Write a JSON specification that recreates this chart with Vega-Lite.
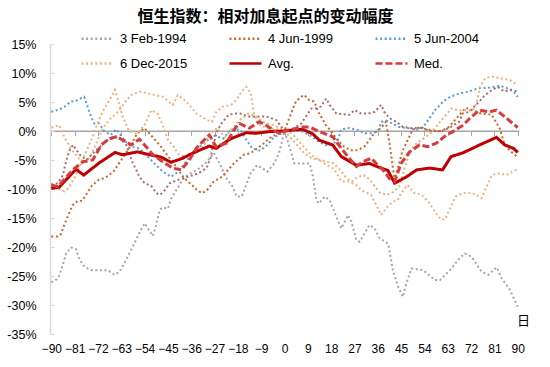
{
"$schema":"https://vega.github.io/schema/vega-lite/v6.json",
"width":469,"height":290,
"autosize":{"type":"none"},
"padding":{"left":50,"top":44,"right":31,"bottom":33},
"background":"white",
"config":{"view":{"stroke":null},"font":"Liberation Sans"},
"title":{"text":"恒生指数：相对加息起点的变动幅度","font":"Noto Sans CJK SC","fontSize":16,"fontWeight":"bold","color":"#000000","anchor":"middle","frame":"group","dx":-19,"offset":-4},
"data":{"values":[
{"s":"3 Feb-1994","d":-90,"v":-26.1},{"s":"3 Feb-1994","d":-88,"v":-25.6},{"s":"3 Feb-1994","d":-87,"v":-25.0},{"s":"3 Feb-1994","d":-85.6,"v":-23.2},{"s":"3 Feb-1994","d":-84.3,"v":-21.1},{"s":"3 Feb-1994","d":-82.4,"v":-20.1},{"s":"3 Feb-1994","d":-80.4,"v":-20.4},{"s":"3 Feb-1994","d":-79.2,"v":-22.1},{"s":"3 Feb-1994","d":-77.2,"v":-23.4},{"s":"3 Feb-1994","d":-74.6,"v":-24.0},{"s":"3 Feb-1994","d":-68.2,"v":-24.0},{"s":"3 Feb-1994","d":-65.6,"v":-24.8},{"s":"3 Feb-1994","d":-63.7,"v":-24.3},{"s":"3 Feb-1994","d":-61.1,"v":-22.2},{"s":"3 Feb-1994","d":-58.5,"v":-19.9},{"s":"3 Feb-1994","d":-55.9,"v":-17.5},{"s":"3 Feb-1994","d":-54,"v":-15.9},{"s":"3 Feb-1994","d":-52.7,"v":-16.8},{"s":"3 Feb-1994","d":-50.8,"v":-18.1},{"s":"3 Feb-1994","d":-49.5,"v":-16.2},{"s":"3 Feb-1994","d":-48.2,"v":-13.6},{"s":"3 Feb-1994","d":-46.9,"v":-13.2},{"s":"3 Feb-1994","d":-45,"v":-13.4},{"s":"3 Feb-1994","d":-43.7,"v":-11.6},{"s":"3 Feb-1994","d":-41,"v":-9.6},{"s":"3 Feb-1994","d":-38.5,"v":-7.9},{"s":"3 Feb-1994","d":-33.7,"v":-6.7},{"s":"3 Feb-1994","d":-29.9,"v":-5.3},{"s":"3 Feb-1994","d":-27.3,"v":-3.8},{"s":"3 Feb-1994","d":-24.7,"v":-5.9},{"s":"3 Feb-1994","d":-22.8,"v":-7.9},{"s":"3 Feb-1994","d":-20,"v":-9.6},{"s":"3 Feb-1994","d":-18.5,"v":-11.3},{"s":"3 Feb-1994","d":-16.5,"v":-11.3},{"s":"3 Feb-1994","d":-13.1,"v":-7.3},{"s":"3 Feb-1994","d":-10.6,"v":-5.9},{"s":"3 Feb-1994","d":-8.6,"v":-6.4},{"s":"3 Feb-1994","d":-6.6,"v":-7.0},{"s":"3 Feb-1994","d":-4,"v":-5.6},{"s":"3 Feb-1994","d":-2.1,"v":-3.8},{"s":"3 Feb-1994","d":0,"v":0},{"s":"3 Feb-1994","d":2.5,"v":-3.6},{"s":"3 Feb-1994","d":3.8,"v":-5.6},{"s":"3 Feb-1994","d":7.7,"v":-5.6},{"s":"3 Feb-1994","d":9.7,"v":-5.6},{"s":"3 Feb-1994","d":11,"v":-7.9},{"s":"3 Feb-1994","d":12.3,"v":-11.9},{"s":"3 Feb-1994","d":13.3,"v":-12.5},{"s":"3 Feb-1994","d":15.5,"v":-11.3},{"s":"3 Feb-1994","d":17.4,"v":-11.9},{"s":"3 Feb-1994","d":20,"v":-14.8},{"s":"3 Feb-1994","d":21.9,"v":-16.8},{"s":"3 Feb-1994","d":24.5,"v":-14.5},{"s":"3 Feb-1994","d":25.8,"v":-15.6},{"s":"3 Feb-1994","d":27.7,"v":-18.8},{"s":"3 Feb-1994","d":29,"v":-19.1},{"s":"3 Feb-1994","d":32.8,"v":-16.2},{"s":"3 Feb-1994","d":34.8,"v":-16.8},{"s":"3 Feb-1994","d":36.7,"v":-18.5},{"s":"3 Feb-1994","d":39.9,"v":-19.4},{"s":"3 Feb-1994","d":40.5,"v":-20.5},{"s":"3 Feb-1994","d":41.8,"v":-24.0},{"s":"3 Feb-1994","d":43.8,"v":-26.8},{"s":"3 Feb-1994","d":45.7,"v":-28.6},{"s":"3 Feb-1994","d":47,"v":-26.3},{"s":"3 Feb-1994","d":49,"v":-23.7},{"s":"3 Feb-1994","d":53.5,"v":-24.0},{"s":"3 Feb-1994","d":58,"v":-25.7},{"s":"3 Feb-1994","d":60,"v":-25.7},{"s":"3 Feb-1994","d":63.8,"v":-24.0},{"s":"3 Feb-1994","d":67.7,"v":-21.9},{"s":"3 Feb-1994","d":69.6,"v":-21.1},{"s":"3 Feb-1994","d":72.2,"v":-21.7},{"s":"3 Feb-1994","d":76.1,"v":-24.3},{"s":"3 Feb-1994","d":78.7,"v":-24.8},{"s":"3 Feb-1994","d":81.9,"v":-23.5},{"s":"3 Feb-1994","d":83.8,"v":-25.4},{"s":"3 Feb-1994","d":87,"v":-27.4},{"s":"3 Feb-1994","d":90,"v":-30.3},
{"s":"4 Jun-1999","d":-90,"v":-18.2},{"s":"4 Jun-1999","d":-87.5,"v":-18.2},{"s":"4 Jun-1999","d":-86.3,"v":-17.8},{"s":"4 Jun-1999","d":-85,"v":-16.2},{"s":"4 Jun-1999","d":-83.7,"v":-14.8},{"s":"4 Jun-1999","d":-81.8,"v":-12.8},{"s":"4 Jun-1999","d":-79.9,"v":-12.1},{"s":"4 Jun-1999","d":-78,"v":-12.0},{"s":"4 Jun-1999","d":-76.6,"v":-11},{"s":"4 Jun-1999","d":-74.5,"v":-9.5},{"s":"4 Jun-1999","d":-72,"v":-8.5},{"s":"4 Jun-1999","d":-69,"v":-8},{"s":"4 Jun-1999","d":-66,"v":-7},{"s":"4 Jun-1999","d":-63,"v":-5},{"s":"4 Jun-1999","d":-60,"v":-3},{"s":"4 Jun-1999","d":-57,"v":-0.5},{"s":"4 Jun-1999","d":-54,"v":0.5},{"s":"4 Jun-1999","d":-51,"v":-1},{"s":"4 Jun-1999","d":-48,"v":-2.5},{"s":"4 Jun-1999","d":-45,"v":-4.3},{"s":"4 Jun-1999","d":-42,"v":-6},{"s":"4 Jun-1999","d":-39,"v":-8},{"s":"4 Jun-1999","d":-36.5,"v":-9},{"s":"4 Jun-1999","d":-33.7,"v":-10.2},{"s":"4 Jun-1999","d":-31.8,"v":-10.7},{"s":"4 Jun-1999","d":-29.9,"v":-10.2},{"s":"4 Jun-1999","d":-27.3,"v":-8.7},{"s":"4 Jun-1999","d":-24.1,"v":-7.9},{"s":"4 Jun-1999","d":-19.6,"v":-5.6},{"s":"4 Jun-1999","d":-15.7,"v":-4.1},{"s":"4 Jun-1999","d":-13,"v":-3.8},{"s":"4 Jun-1999","d":-9,"v":-2.5},{"s":"4 Jun-1999","d":-5,"v":-1.0},{"s":"4 Jun-1999","d":0,"v":0},{"s":"4 Jun-1999","d":2.5,"v":3.0},{"s":"4 Jun-1999","d":4.4,"v":5.1},{"s":"4 Jun-1999","d":6.4,"v":5.9},{"s":"4 Jun-1999","d":7.6,"v":6.2},{"s":"4 Jun-1999","d":9.6,"v":5.3},{"s":"4 Jun-1999","d":11.4,"v":5.1},{"s":"4 Jun-1999","d":13.4,"v":3.0},{"s":"4 Jun-1999","d":16,"v":1.0},{"s":"4 Jun-1999","d":17.9,"v":0},{"s":"4 Jun-1999","d":20.5,"v":-1.6},{"s":"4 Jun-1999","d":23,"v":-2.7},{"s":"4 Jun-1999","d":25.6,"v":-3.3},{"s":"4 Jun-1999","d":28.2,"v":-3.3},{"s":"4 Jun-1999","d":30.8,"v":-2.7},{"s":"4 Jun-1999","d":32.7,"v":-1.6},{"s":"4 Jun-1999","d":34.6,"v":-0.4},{"s":"4 Jun-1999","d":37.2,"v":0.5},{"s":"4 Jun-1999","d":39.1,"v":1.6},{"s":"4 Jun-1999","d":40.5,"v":-2},{"s":"4 Jun-1999","d":42.5,"v":-8.5},{"s":"4 Jun-1999","d":44,"v":-6},{"s":"4 Jun-1999","d":45.5,"v":-3.5},{"s":"4 Jun-1999","d":47.5,"v":-1.6},{"s":"4 Jun-1999","d":49.4,"v":0.2},{"s":"4 Jun-1999","d":52.6,"v":0.7},{"s":"4 Jun-1999","d":55.8,"v":0},{"s":"4 Jun-1999","d":60,"v":0},{"s":"4 Jun-1999","d":63,"v":0.5},{"s":"4 Jun-1999","d":66,"v":2.0},{"s":"4 Jun-1999","d":70,"v":4.0},{"s":"4 Jun-1999","d":73,"v":3.5},{"s":"4 Jun-1999","d":76,"v":3.0},{"s":"4 Jun-1999","d":80,"v":2.8},{"s":"4 Jun-1999","d":83,"v":0.5},{"s":"4 Jun-1999","d":85,"v":-2.4},{"s":"4 Jun-1999","d":87.5,"v":-3.6},{"s":"4 Jun-1999","d":90,"v":-4.5},
{"s":"5 Jun-2004","d":-90,"v":3.3},{"s":"5 Jun-2004","d":-85.7,"v":3.9},{"s":"5 Jun-2004","d":-82.4,"v":5.1},{"s":"5 Jun-2004","d":-80.5,"v":5.2},{"s":"5 Jun-2004","d":-77.3,"v":5.9},{"s":"5 Jun-2004","d":-76,"v":4.2},{"s":"5 Jun-2004","d":-74.7,"v":2.5},{"s":"5 Jun-2004","d":-73.4,"v":1.3},{"s":"5 Jun-2004","d":-71.5,"v":1.3},{"s":"5 Jun-2004","d":-69.6,"v":0},{"s":"5 Jun-2004","d":-67,"v":-0.7},{"s":"5 Jun-2004","d":-65,"v":0.3},{"s":"5 Jun-2004","d":-63.7,"v":-0.4},{"s":"5 Jun-2004","d":-61.8,"v":-1.6},{"s":"5 Jun-2004","d":-59.2,"v":-2.7},{"s":"5 Jun-2004","d":-56,"v":-3.0},{"s":"5 Jun-2004","d":-53.4,"v":-4.1},{"s":"5 Jun-2004","d":-50.2,"v":-5.6},{"s":"5 Jun-2004","d":-47,"v":-7.0},{"s":"5 Jun-2004","d":-43.8,"v":-7.9},{"s":"5 Jun-2004","d":-41.8,"v":-7.3},{"s":"5 Jun-2004","d":-39.3,"v":-6.1},{"s":"5 Jun-2004","d":-36.7,"v":-4.4},{"s":"5 Jun-2004","d":-33.5,"v":-2.8},{"s":"5 Jun-2004","d":-31,"v":-2.2},{"s":"5 Jun-2004","d":-27.6,"v":-0.7},{"s":"5 Jun-2004","d":-23.7,"v":-1.3},{"s":"5 Jun-2004","d":-20.5,"v":0.3},{"s":"5 Jun-2004","d":-17,"v":0.2},{"s":"5 Jun-2004","d":-15,"v":-1.3},{"s":"5 Jun-2004","d":-12.5,"v":-3.0},{"s":"5 Jun-2004","d":-9.3,"v":-3.4},{"s":"5 Jun-2004","d":-6.7,"v":-2.4},{"s":"5 Jun-2004","d":-4.1,"v":-1.1},{"s":"5 Jun-2004","d":-1,"v":-0.4},{"s":"5 Jun-2004","d":0,"v":0},{"s":"5 Jun-2004","d":3,"v":0.1},{"s":"5 Jun-2004","d":6.5,"v":0},{"s":"5 Jun-2004","d":10,"v":-0.8},{"s":"5 Jun-2004","d":13,"v":-1.8},{"s":"5 Jun-2004","d":15.5,"v":-2.4},{"s":"5 Jun-2004","d":18,"v":-2.4},{"s":"5 Jun-2004","d":20.6,"v":-1.6},{"s":"5 Jun-2004","d":21.9,"v":0.3},{"s":"5 Jun-2004","d":25.1,"v":0.5},{"s":"5 Jun-2004","d":28.3,"v":0.2},{"s":"5 Jun-2004","d":30.9,"v":-0.4},{"s":"5 Jun-2004","d":34.1,"v":-0.4},{"s":"5 Jun-2004","d":36,"v":0},{"s":"5 Jun-2004","d":37.5,"v":1.6},{"s":"5 Jun-2004","d":39.9,"v":1.7},{"s":"5 Jun-2004","d":41.8,"v":1.2},{"s":"5 Jun-2004","d":44.2,"v":0.7},{"s":"5 Jun-2004","d":47.6,"v":0.5},{"s":"5 Jun-2004","d":51,"v":0.2},{"s":"5 Jun-2004","d":53.5,"v":0.7},{"s":"5 Jun-2004","d":55.5,"v":1.9},{"s":"5 Jun-2004","d":58.1,"v":3.6},{"s":"5 Jun-2004","d":61.3,"v":5.1},{"s":"5 Jun-2004","d":63.9,"v":5.9},{"s":"5 Jun-2004","d":67.7,"v":6.5},{"s":"5 Jun-2004","d":71,"v":6.8},{"s":"5 Jun-2004","d":72.9,"v":7.1},{"s":"5 Jun-2004","d":75.5,"v":7.4},{"s":"5 Jun-2004","d":78,"v":7.4},{"s":"5 Jun-2004","d":80.6,"v":7.6},{"s":"5 Jun-2004","d":83.2,"v":7.8},{"s":"5 Jun-2004","d":85.8,"v":7.4},{"s":"5 Jun-2004","d":88.4,"v":6.8},{"s":"5 Jun-2004","d":90,"v":5.9},
{"s":"6 Dec-2015","d":-90,"v":0.6},{"s":"6 Dec-2015","d":-87,"v":1.0},{"s":"6 Dec-2015","d":-85,"v":-1.0},{"s":"6 Dec-2015","d":-82.5,"v":-3.0},{"s":"6 Dec-2015","d":-80,"v":-4.4},{"s":"6 Dec-2015","d":-77.3,"v":-5.6},{"s":"6 Dec-2015","d":-75,"v":-4.5},{"s":"6 Dec-2015","d":-72.5,"v":-2},{"s":"6 Dec-2015","d":-70,"v":0.5},{"s":"6 Dec-2015","d":-67.5,"v":2},{"s":"6 Dec-2015","d":-65,"v":3},{"s":"6 Dec-2015","d":-63.7,"v":3.6},{"s":"6 Dec-2015","d":-61.5,"v":5},{"s":"6 Dec-2015","d":-59.2,"v":6.2},{"s":"6 Dec-2015","d":-56,"v":6.8},{"s":"6 Dec-2015","d":-52.7,"v":6.5},{"s":"6 Dec-2015","d":-50,"v":6.2},{"s":"6 Dec-2015","d":-47,"v":5.9},{"s":"6 Dec-2015","d":-43.1,"v":4.5},{"s":"6 Dec-2015","d":-41.2,"v":6.2},{"s":"6 Dec-2015","d":-37.9,"v":5.1},{"s":"6 Dec-2015","d":-34,"v":3.0},{"s":"6 Dec-2015","d":-30,"v":1.9},{"s":"6 Dec-2015","d":-28,"v":1.6},{"s":"6 Dec-2015","d":-26.3,"v":3.3},{"s":"6 Dec-2015","d":-23.8,"v":4.2},{"s":"6 Dec-2015","d":-20.6,"v":4.5},{"s":"6 Dec-2015","d":-18.7,"v":5.3},{"s":"6 Dec-2015","d":-16.5,"v":6.8},{"s":"6 Dec-2015","d":-14.8,"v":7.6},{"s":"6 Dec-2015","d":-13,"v":6.5},{"s":"6 Dec-2015","d":-11.8,"v":3.0},{"s":"6 Dec-2015","d":-10.5,"v":1.3},{"s":"6 Dec-2015","d":-7,"v":0.5},{"s":"6 Dec-2015","d":-3,"v":0.3},{"s":"6 Dec-2015","d":0,"v":0},{"s":"6 Dec-2015","d":3,"v":-0.5},{"s":"6 Dec-2015","d":6,"v":-2},{"s":"6 Dec-2015","d":10,"v":-4},{"s":"6 Dec-2015","d":15,"v":-5.5},{"s":"6 Dec-2015","d":19,"v":-6.5},{"s":"6 Dec-2015","d":22,"v":-8.7},{"s":"6 Dec-2015","d":25,"v":-8.7},{"s":"6 Dec-2015","d":27.6,"v":-9.3},{"s":"6 Dec-2015","d":29.6,"v":-10.2},{"s":"6 Dec-2015","d":33.4,"v":-11},{"s":"6 Dec-2015","d":35.4,"v":-12.8},{"s":"6 Dec-2015","d":37.3,"v":-14.5},{"s":"6 Dec-2015","d":39.9,"v":-13},{"s":"6 Dec-2015","d":41.8,"v":-12.2},{"s":"6 Dec-2015","d":43.7,"v":-11.9},{"s":"6 Dec-2015","d":45,"v":-10.7},{"s":"6 Dec-2015","d":47.5,"v":-9.3},{"s":"6 Dec-2015","d":50,"v":-10.7},{"s":"6 Dec-2015","d":53,"v":-11},{"s":"6 Dec-2015","d":56,"v":-12.5},{"s":"6 Dec-2015","d":58.5,"v":-14.2},{"s":"6 Dec-2015","d":60.5,"v":-15.3},{"s":"6 Dec-2015","d":62,"v":-15.2},{"s":"6 Dec-2015","d":63,"v":-14.2},{"s":"6 Dec-2015","d":64.5,"v":-12.8},{"s":"6 Dec-2015","d":66,"v":-11.3},{"s":"6 Dec-2015","d":69,"v":-10.7},{"s":"6 Dec-2015","d":72,"v":-10.7},{"s":"6 Dec-2015","d":74,"v":-11},{"s":"6 Dec-2015","d":76,"v":-11.6},{"s":"6 Dec-2015","d":78,"v":-9.6},{"s":"6 Dec-2015","d":80,"v":-7.6},{"s":"6 Dec-2015","d":83,"v":-7.3},{"s":"6 Dec-2015","d":85.5,"v":-7.6},{"s":"6 Dec-2015","d":88,"v":-7},{"s":"6 Dec-2015","d":90,"v":-6.6},
{"s":"X1","d":-90,"v":-9.3},{"s":"X1","d":-87.5,"v":-9.0},{"s":"X1","d":-85.5,"v":-7.6},{"s":"X1","d":-84.2,"v":-5.0},{"s":"X1","d":-82.9,"v":-3.3},{"s":"X1","d":-81.6,"v":-2.4},{"s":"X1","d":-80.3,"v":-3.3},{"s":"X1","d":-79,"v":-4.1},{"s":"X1","d":-76.5,"v":-5.0},{"s":"X1","d":-72,"v":-3.0},{"s":"X1","d":-68,"v":-1.5},{"s":"X1","d":-64,"v":-1.0},{"s":"X1","d":-61,"v":-2.5},{"s":"X1","d":-58.5,"v":-5.6},{"s":"X1","d":-57.2,"v":-6.7},{"s":"X1","d":-56,"v":-7.9},{"s":"X1","d":-54,"v":-9.0},{"s":"X1","d":-51.4,"v":-9.5},{"s":"X1","d":-49.5,"v":-10.7},{"s":"X1","d":-48,"v":-11.0},{"s":"X1","d":-46.2,"v":-10.2},{"s":"X1","d":-44.3,"v":-9.0},{"s":"X1","d":-41,"v":-8.4},{"s":"X1","d":-37.2,"v":-7.9},{"s":"X1","d":-33.3,"v":-7.3},{"s":"X1","d":-30.1,"v":-6.4},{"s":"X1","d":-28.6,"v":-4.7},{"s":"X1","d":-27.5,"v":-2.5},{"s":"X1","d":-26,"v":0},{"s":"X1","d":-24,"v":1.5},{"s":"X1","d":-21.5,"v":2.8},{"s":"X1","d":-19.6,"v":3.0},{"s":"X1","d":-17,"v":3.0},{"s":"X1","d":-14,"v":2.5},{"s":"X1","d":-11,"v":2.5},{"s":"X1","d":-7,"v":2.5},{"s":"X1","d":-3.2,"v":1.9},{"s":"X1","d":0,"v":0},{"s":"X1","d":3,"v":0.3},{"s":"X1","d":6.5,"v":1.3},{"s":"X1","d":10.4,"v":3.9},{"s":"X1","d":12.3,"v":3.9},{"s":"X1","d":14,"v":4.2},{"s":"X1","d":16.1,"v":5.6},{"s":"X1","d":17.4,"v":4.5},{"s":"X1","d":20,"v":3.0},{"s":"X1","d":22.5,"v":2.9},{"s":"X1","d":25.1,"v":2.8},{"s":"X1","d":27,"v":3.6},{"s":"X1","d":29.6,"v":3.0},{"s":"X1","d":32.2,"v":3.0},{"s":"X1","d":34.8,"v":3.3},{"s":"X1","d":37.3,"v":4.5},{"s":"X1","d":38.5,"v":3.3},{"s":"X1","d":40.5,"v":2.2},{"s":"X1","d":43.1,"v":1.6},{"s":"X1","d":45.7,"v":0.7},{"s":"X1","d":48.7,"v":0.5},{"s":"X1","d":52.6,"v":0.5},{"s":"X1","d":56,"v":0.2},{"s":"X1","d":60.3,"v":-0.1},{"s":"X1","d":64.2,"v":0.7},{"s":"X1","d":67.4,"v":1.6},{"s":"X1","d":68.7,"v":3.0},{"s":"X1","d":71.3,"v":3.3},{"s":"X1","d":73.2,"v":4.2},{"s":"X1","d":75.2,"v":5.1},{"s":"X1","d":77,"v":6.0},{"s":"X1","d":79.1,"v":6.8},{"s":"X1","d":82.3,"v":7.6},{"s":"X1","d":84.9,"v":6.8},{"s":"X1","d":87.5,"v":7.1},{"s":"X1","d":90,"v":6.8},
{"s":"X2","d":-90,"v":-9.0},{"s":"X2","d":-87.5,"v":-9.9},{"s":"X2","d":-85,"v":-10.4},{"s":"X2","d":-83.4,"v":-9.9},{"s":"X2","d":-81,"v":-8},{"s":"X2","d":-78.5,"v":-5.5},{"s":"X2","d":-76,"v":-3},{"s":"X2","d":-74,"v":-1},{"s":"X2","d":-72,"v":1.5},{"s":"X2","d":-70,"v":3.5},{"s":"X2","d":-68,"v":5},{"s":"X2","d":-66.5,"v":6.2},{"s":"X2","d":-65.5,"v":7.1},{"s":"X2","d":-64,"v":5},{"s":"X2","d":-62.5,"v":2.5},{"s":"X2","d":-60,"v":0},{"s":"X2","d":-57,"v":-0.5},{"s":"X2","d":-54,"v":1.0},{"s":"X2","d":-51.4,"v":3.6},{"s":"X2","d":-49,"v":3.0},{"s":"X2","d":-47,"v":1},{"s":"X2","d":-45,"v":-1.5},{"s":"X2","d":-43,"v":-2.5},{"s":"X2","d":-41,"v":-4},{"s":"X2","d":-38,"v":-4.5},{"s":"X2","d":-35,"v":-4},{"s":"X2","d":-32,"v":-3},{"s":"X2","d":-29,"v":-0.5},{"s":"X2","d":-26,"v":0.5},{"s":"X2","d":-23,"v":-1},{"s":"X2","d":-20,"v":0.5},{"s":"X2","d":-17,"v":2},{"s":"X2","d":-14,"v":3},{"s":"X2","d":-11,"v":2.5},{"s":"X2","d":-8,"v":1.5},{"s":"X2","d":-4,"v":1},{"s":"X2","d":0,"v":0},{"s":"X2","d":3,"v":-1.5},{"s":"X2","d":6,"v":-3},{"s":"X2","d":8,"v":-4},{"s":"X2","d":10.5,"v":-4.7},{"s":"X2","d":13.7,"v":-5},{"s":"X2","d":18.9,"v":-5.6},{"s":"X2","d":21.5,"v":-6.7},{"s":"X2","d":24,"v":-8.2},{"s":"X2","d":26,"v":-8.7},{"s":"X2","d":28,"v":-8.0},{"s":"X2","d":30.6,"v":-7.6},{"s":"X2","d":32.5,"v":-8.2},{"s":"X2","d":35,"v":-9.6},{"s":"X2","d":37,"v":-10.7},{"s":"X2","d":39.6,"v":-11},{"s":"X2","d":42,"v":-10.5},{"s":"X2","d":44.2,"v":-9.6},{"s":"X2","d":46,"v":-7},{"s":"X2","d":48,"v":-4},{"s":"X2","d":50,"v":-2.5},{"s":"X2","d":53,"v":-1.5},{"s":"X2","d":56,"v":-0.5},{"s":"X2","d":59,"v":1},{"s":"X2","d":62.7,"v":3.0},{"s":"X2","d":64.5,"v":3.9},{"s":"X2","d":67,"v":3.5},{"s":"X2","d":70.2,"v":3.6},{"s":"X2","d":72.5,"v":3.5},{"s":"X2","d":74.1,"v":4.8},{"s":"X2","d":75.5,"v":7.6},{"s":"X2","d":77.4,"v":9.1},{"s":"X2","d":80,"v":9.4},{"s":"X2","d":83.2,"v":9.1},{"s":"X2","d":87,"v":8.8},{"s":"X2","d":90,"v":7.9},
{"s":"Avg.","d":-90,"v":-9.9},{"s":"Avg.","d":-87,"v":-9.7},{"s":"Avg.","d":-80.5,"v":-6.6},{"s":"Avg.","d":-77.5,"v":-7.6},{"s":"Avg.","d":-71.5,"v":-5.5},{"s":"Avg.","d":-65.4,"v":-3.7},{"s":"Avg.","d":-62.5,"v":-4.1},{"s":"Avg.","d":-56.7,"v":-3.6},{"s":"Avg.","d":-52,"v":-4.1},{"s":"Avg.","d":-47.6,"v":-4.5},{"s":"Avg.","d":-43.8,"v":-5.4},{"s":"Avg.","d":-39.3,"v":-4.7},{"s":"Avg.","d":-35.4,"v":-3.8},{"s":"Avg.","d":-29,"v":-2.6},{"s":"Avg.","d":-26.4,"v":-3.0},{"s":"Avg.","d":-20.6,"v":-1.3},{"s":"Avg.","d":-14.8,"v":-0.3},{"s":"Avg.","d":-10.9,"v":-0.4},{"s":"Avg.","d":-5.8,"v":-0.1},{"s":"Avg.","d":0,"v":0},{"s":"Avg.","d":4,"v":0.2},{"s":"Avg.","d":7,"v":0.3},{"s":"Avg.","d":10.9,"v":-0.5},{"s":"Avg.","d":13.5,"v":-1.6},{"s":"Avg.","d":18.6,"v":-2.4},{"s":"Avg.","d":21.9,"v":-4.4},{"s":"Avg.","d":27.7,"v":-5.9},{"s":"Avg.","d":32.8,"v":-5.6},{"s":"Avg.","d":36.7,"v":-6.3},{"s":"Avg.","d":39.9,"v":-6.8},{"s":"Avg.","d":42.5,"v":-9.0},{"s":"Avg.","d":47.1,"v":-7.9},{"s":"Avg.","d":51,"v":-6.7},{"s":"Avg.","d":56,"v":-6.4},{"s":"Avg.","d":61,"v":-6.7},{"s":"Avg.","d":64.3,"v":-4.4},{"s":"Avg.","d":68.7,"v":-3.8},{"s":"Avg.","d":75.3,"v":-2.4},{"s":"Avg.","d":81.8,"v":-1.1},{"s":"Avg.","d":85,"v":-2.4},{"s":"Avg.","d":88.4,"v":-3.0},{"s":"Avg.","d":90,"v":-3.7},
{"s":"Med.","d":-90,"v":-9.3},{"s":"Med.","d":-87.5,"v":-9.6},{"s":"Med.","d":-81.7,"v":-6.7},{"s":"Med.","d":-77.8,"v":-5.3},{"s":"Med.","d":-74,"v":-5.0},{"s":"Med.","d":-70.7,"v":-2.4},{"s":"Med.","d":-67.6,"v":-1.3},{"s":"Med.","d":-65,"v":-1.0},{"s":"Med.","d":-61.1,"v":-1.8},{"s":"Med.","d":-59.2,"v":-2.4},{"s":"Med.","d":-56,"v":-1.4},{"s":"Med.","d":-54,"v":-2.4},{"s":"Med.","d":-50.8,"v":-4.1},{"s":"Med.","d":-47,"v":-5.3},{"s":"Med.","d":-43.1,"v":-6.4},{"s":"Med.","d":-39.9,"v":-6.7},{"s":"Med.","d":-36.7,"v":-5.0},{"s":"Med.","d":-34.1,"v":-3.0},{"s":"Med.","d":-31.6,"v":-1.8},{"s":"Med.","d":-29,"v":-0.7},{"s":"Med.","d":-26.4,"v":-2.7},{"s":"Med.","d":-22.5,"v":-2.1},{"s":"Med.","d":-19,"v":0.5},{"s":"Med.","d":-17.4,"v":1.3},{"s":"Med.","d":-13.5,"v":0.5},{"s":"Med.","d":-9.7,"v":1.6},{"s":"Med.","d":-7.1,"v":1.0},{"s":"Med.","d":-3.9,"v":0},{"s":"Med.","d":-1.5,"v":-0.5},{"s":"Med.","d":0,"v":0},{"s":"Med.","d":4,"v":0.4},{"s":"Med.","d":7,"v":0.7},{"s":"Med.","d":9.7,"v":0.7},{"s":"Med.","d":13.5,"v":-0.1},{"s":"Med.","d":18.6,"v":-1.0},{"s":"Med.","d":21.9,"v":-3.0},{"s":"Med.","d":25,"v":-4.7},{"s":"Med.","d":27.7,"v":-6.1},{"s":"Med.","d":30.3,"v":-5.3},{"s":"Med.","d":33.5,"v":-4.7},{"s":"Med.","d":35.4,"v":-5.6},{"s":"Med.","d":38,"v":-6.7},{"s":"Med.","d":40.5,"v":-8.2},{"s":"Med.","d":42.5,"v":-8.7},{"s":"Med.","d":45,"v":-5.6},{"s":"Med.","d":48.3,"v":-3.6},{"s":"Med.","d":52.1,"v":-2.4},{"s":"Med.","d":55.3,"v":-2.7},{"s":"Med.","d":58.6,"v":-2.1},{"s":"Med.","d":62.4,"v":-0.7},{"s":"Med.","d":65,"v":-0.1},{"s":"Med.","d":68.9,"v":1.0},{"s":"Med.","d":71.5,"v":2.2},{"s":"Med.","d":75.3,"v":3.6},{"s":"Med.","d":79.2,"v":3.3},{"s":"Med.","d":81.8,"v":3.6},{"s":"Med.","d":85.7,"v":2.2},{"s":"Med.","d":90,"v":0.6}
]},
"encoding":{
"x":{"field":"d","type":"quantitative","scale":{"domain":[-90.5,90.5],"nice":false,"zero":false},
"axis":{"orient":"bottom","offset":-203.3,"values":[-90,-81,-72,-63,-54,-45,-36,-27,-18,-9,0,9,18,27,36,45,54,63,72,81,90],"domainColor":"#A6A6A6","domainWidth":1.5,"tickColor":"#A6A6A6","tickSize":5,"tickWidth":1,"labelPadding":208,"labelFontSize":12,"labelColor":"#000000","labelFlush":false,"labelOverlap":false,"grid":false,"title":"日","titleFontSize":13,"titleFontWeight":"normal","titleFont":"Noto Sans CJK SC","titleColor":"#000000","titleX":473,"titleY":190,"titleBaseline":"middle","titleAlign":"center","titleAngle":0}},
"y":{"field":"v","type":"quantitative","scale":{"domain":[-35,15],"nice":false,"zero":false},
"axis":{"values":[-35,-30,-25,-20,-15,-10,-5,0,5,10,15],"labelExpr":"datum.value + '%'","domainColor":"#D9D9D9","domainWidth":1.5,"tickColor":"#D9D9D9","tickSize":-4,"labelPadding":18,"labelFontSize":12.5,"labelColor":"#000000","grid":false,"title":null}},
"color":{"field":"s","type":"nominal","scale":{"domain":["3 Feb-1994","4 Jun-1999","5 Jun-2004","6 Dec-2015","Avg.","Med.","X1","X2"],"range":["#A5A5A5","#C9672A","#5B9BD5","#F4B183","#C00000","#D83B3B","#AD6A6C","#E5B27E"]},
"legend":{"values":["3 Feb-1994","4 Jun-1999","5 Jun-2004","6 Dec-2015","Avg.","Med."],"title":null,"orient":"none","direction":"horizontal","legendX":30,"legendY":-23,"columns":3,"symbolType":"stroke","symbolSize":1024,"symbolStrokeWidth":2.5,"labelFontSize":13,"labelColor":"#000000","labelOffset":5,"rowPadding":-7,"columnPadding":36,"padding":0}},
"strokeDash":{"field":"s","type":"nominal","scale":{"domain":["3 Feb-1994","4 Jun-1999","5 Jun-2004","6 Dec-2015","Avg.","Med.","X1","X2"],"range":[[2,2.6],[2,2.6],[2,2.6],[2,2.6],[1,0],[7,3],[2,2.6],[2,2.6]]},
"legend":{"values":["3 Feb-1994","4 Jun-1999","5 Jun-2004","6 Dec-2015","Avg.","Med."],"title":null,"orient":"none","direction":"horizontal","legendX":30,"legendY":-23,"columns":3,"symbolType":"stroke","symbolSize":1024,"symbolStrokeWidth":2.5,"labelFontSize":13,"labelColor":"#000000","labelOffset":5,"rowPadding":-7,"columnPadding":36,"padding":0}}
},
"layer":[
{"transform":[{"filter":"datum.s !== 'Avg.' && datum.s !== 'Med.'"}],"mark":{"type":"line","strokeWidth":2}},
{"transform":[{"filter":"datum.s === 'Avg.'"}],"mark":{"type":"line","strokeWidth":3}},
{"transform":[{"filter":"datum.s === 'Med.'"}],"mark":{"type":"line","strokeWidth":3}}
]
}
